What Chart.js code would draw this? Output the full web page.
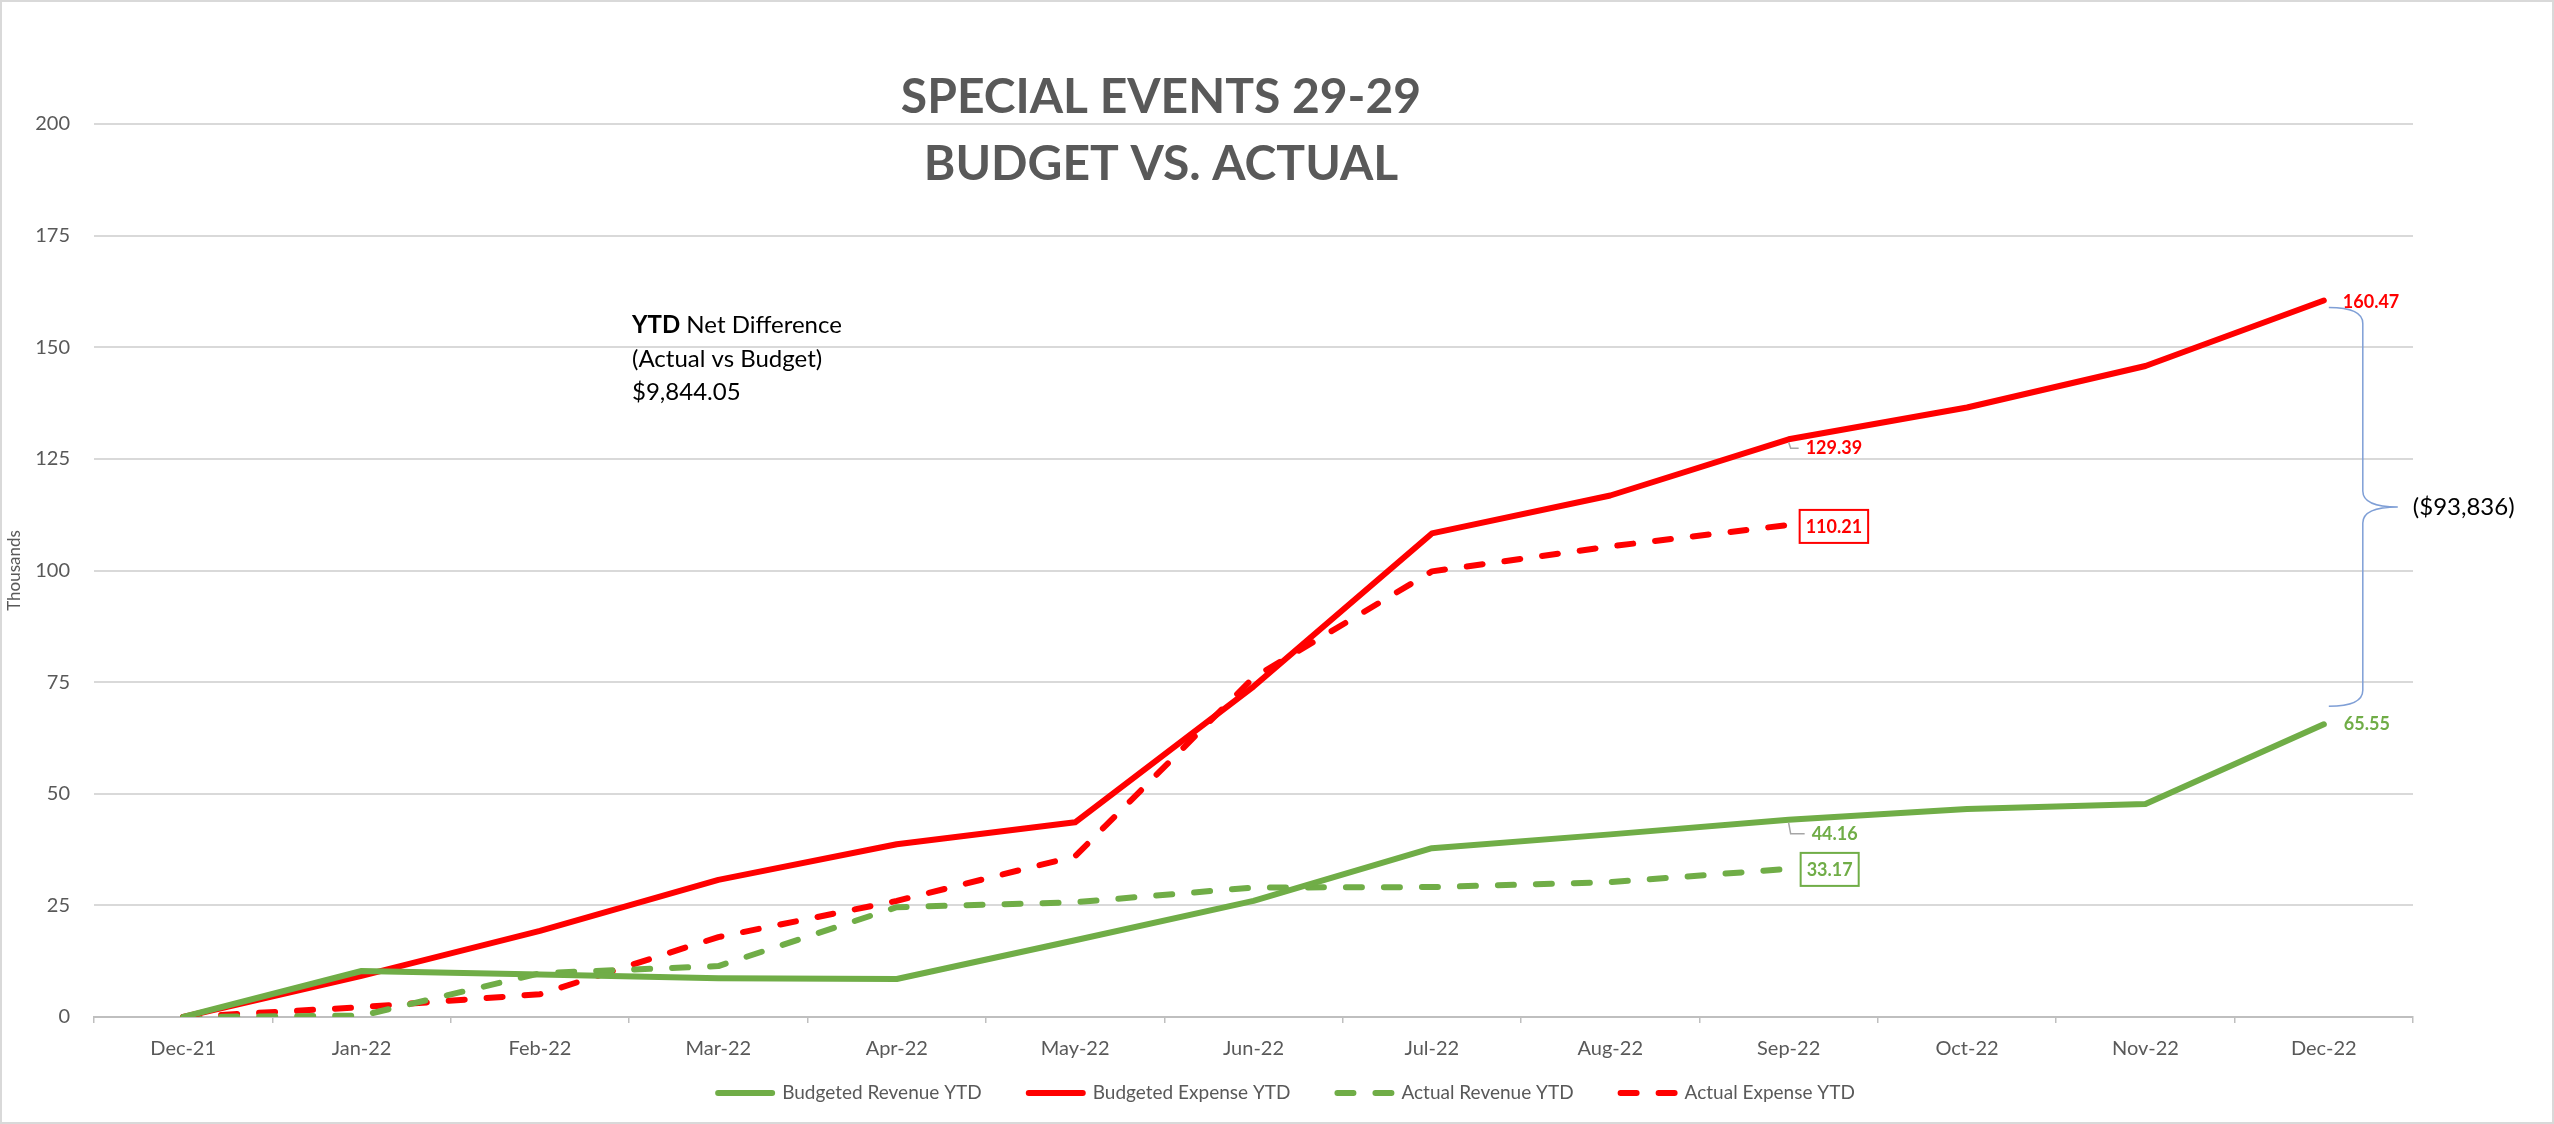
<!DOCTYPE html>
<html>
<head>
<meta charset="utf-8">
<title>Special Events Budget vs Actual</title>
<script src="https://cdn.jsdelivr.net/npm/chart.js"></script>
<style>
  html, body { margin: 0; padding: 0; background: #fff; }
  canvas { display: block; }
</style>
</head>
<body>
<canvas id="chart" width="2554" height="1124"></canvas>
<script>
// Data (thousands)
const months = ['Dec-21', 'Jan-22', 'Feb-22', 'Mar-22', 'Apr-22', 'May-22', 'Jun-22',
                'Jul-22', 'Aug-22', 'Sep-22', 'Oct-22', 'Nov-22', 'Dec-22'];
const budgetedRevenue = [0, 10.3, 9.5, 8.7, 8.5, 17.2, 26.0, 37.8, 40.9, 44.16, 46.6, 47.7, 65.55];
const budgetedExpense = [0, 9.2, 19.3, 30.7, 38.7, 43.6, 74.0, 108.3, 116.8, 129.39, 136.5, 145.8, 160.47];
const actualRevenue = [0, 0.3, 9.8, 11.4, 24.6, 25.7, 29.0, 29.1, 30.2, 33.17];
const actualExpense = [0, 2.2, 5.1, 17.9, 26.0, 36.0, 76.0, 99.8, 105.4, 110.21];
const yTicks = [0, 25, 50, 75, 100, 125, 150, 175, 200];

const titleLines = ['SPECIAL EVENTS 29-29', 'BUDGET VS. ACTUAL'];
const netNote = ['YTD', ' Net Difference', '(Actual vs Budget)', '$9,844.05'];
const gapNote = '($93,836)';

const GREEN = '#70AD47';
const RED = '#FF0000';
const GREY = '#595959';
const FONT = 'Lato, "Open Sans", sans-serif';

// which points get a value label
const pointLabels = [
    { ds: 1, i: 9, dx: 17, dy: 9, leader: true },
    { ds: 3, i: 9, dx: 11, dy: 1, box: true },
    { ds: 1, i: 12, dx: 19, dy: 2 },
    { ds: 0, i: 9, dx: 23, dy: 14, leader: true },
    { ds: 2, i: 9, dx: 12, dy: 0, box: true },
    { ds: 0, i: 12, dx: 20, dy: 0 }
];

const frame = {
    id: 'frame',
    beforeDraw(chart) {
        const ctx = chart.ctx;
        ctx.save();
        ctx.fillStyle = '#fff';
        ctx.fillRect(0, 0, chart.width, chart.height);
        ctx.strokeStyle = '#d9d9d9';
        ctx.lineWidth = 2;
        ctx.strokeRect(1, 1, chart.width - 2, chart.height - 2);
        ctx.restore();
    }
};

const extras = {
    id: 'extras',
    afterDatasetsDraw(chart) {
        const ctx = chart.ctx;
        const y = chart.scales.y;
        ctx.save();

        // Title
        ctx.fillStyle = GREY;
        ctx.font = `bold 48px ${FONT}`;
        ctx.textAlign = 'center';
        ctx.textBaseline = 'middle';
        ctx.fillText(titleLines[0], 1161, 98);
        ctx.fillText(titleLines[1], 1161, 165);

        // YTD note
        ctx.fillStyle = '#000';
        ctx.textAlign = 'left';
        ctx.font = `bold 24px ${FONT}`;
        ctx.fillText(netNote[0], 632, 325);
        const w = ctx.measureText(netNote[0]).width;
        ctx.font = `24px ${FONT}`;
        ctx.fillText(netNote[1], 632 + w, 325);
        ctx.fillText(netNote[2], 632, 359);
        ctx.fillText(netNote[3], 632, 392);

        // value labels
        ctx.font = `bold 18px ${FONT}`;
        pointLabels.forEach(p => {
            const ds = chart.data.datasets[p.ds];
            const pt = chart.getDatasetMeta(p.ds).data[p.i];
            const text = ds.data[p.i].toFixed(2);
            const tx = pt.x + p.dx, ty = pt.y + p.dy;
            const tw = ctx.measureText(text).width;
            if (p.leader) {
                ctx.strokeStyle = '#a6a6a6';
                ctx.lineWidth = 1.5;
                ctx.beginPath();
                ctx.moveTo(pt.x, pt.y + 3);
                ctx.lineTo(pt.x + 2, ty);
                ctx.lineTo(tx - 7, ty);
                ctx.stroke();
            }
            if (p.box) {
                ctx.fillStyle = '#fff';
                ctx.fillRect(tx, ty - 16, tw + 12, 33);
                ctx.strokeStyle = ds.borderColor;
                ctx.lineWidth = 2;
                ctx.strokeRect(tx, ty - 16, tw + 12, 33);
                ctx.fillStyle = ds.borderColor;
                ctx.fillText(text, tx + 6, ty + 1);
            } else {
                ctx.fillStyle = ds.borderColor;
                ctx.fillText(text, tx, ty);
            }
        });

        // brace between budgeted expense and revenue at Dec-22
        const last = months.length - 1;
        const xE = chart.getDatasetMeta(1).data[last].x;
        const top = y.getPixelForValue(budgetedExpense[last]) + 7;
        const bot = y.getPixelForValue(budgetedRevenue[last]) - 18;
        const mid = (top + bot) / 2;
        const x0 = xE + 5, x1 = xE + 39, x2 = xE + 74;
        ctx.strokeStyle = '#7f9fd6';
        ctx.lineWidth = 1.5;
        ctx.beginPath();
        ctx.moveTo(x0, top);
        ctx.quadraticCurveTo(x1, top, x1, top + 16);
        ctx.lineTo(x1, mid - 16);
        ctx.quadraticCurveTo(x1, mid, x2, mid);
        ctx.quadraticCurveTo(x1, mid, x1, mid + 16);
        ctx.lineTo(x1, bot - 16);
        ctx.quadraticCurveTo(x1, bot, x0, bot);
        ctx.stroke();
        ctx.fillStyle = '#000';
        ctx.font = `24px ${FONT}`;
        ctx.fillText(gapNote, x2 + 15, mid);

        ctx.restore();
    },
    afterDraw(chart) {
        // legend along the bottom
        const ctx = chart.ctx;
        const sets = chart.data.datasets;
        ctx.save();
        ctx.font = `19px ${FONT}`;
        ctx.textBaseline = 'middle';
        const lineLen = 60, textGap = 7, itemGap = 44;
        const widths = sets.map(d => lineLen + textGap + ctx.measureText(d.label).width);
        const total = widths.reduce((a, b) => a + b, 0) + itemGap * (sets.length - 1);
        let x = chart.width / 2 + 8 - total / 2;
        const ly = 1093;
        sets.forEach((d, k) => {
            ctx.strokeStyle = d.borderColor;
            ctx.lineWidth = d.borderWidth;
            ctx.lineCap = d.borderCapStyle || 'butt';
            ctx.setLineDash(d.borderDash || []);
            ctx.beginPath();
            ctx.moveTo(x + 3, ly);
            ctx.lineTo(x + lineLen - 3, ly);
            ctx.stroke();
            ctx.setLineDash([]);
            ctx.fillStyle = GREY;
            ctx.fillText(d.label, x + lineLen + textGap, ly);
            x += widths[k] + itemGap;
        });
        ctx.restore();
    }
};

const lineStyle = (color, dashed) => ({
    borderColor: color,
    backgroundColor: color,
    borderWidth: 6,
    borderDash: dashed ? [16, 22] : [],
    borderCapStyle: 'round',
    borderJoinStyle: 'round',
    pointRadius: 0,
    tension: 0,
    fill: false
});

new Chart(document.getElementById('chart'), {
    type: 'line',
    data: {
        labels: months,
        datasets: [
            { label: 'Budgeted Revenue YTD', data: budgetedRevenue, ...lineStyle(GREEN, false) },
            { label: 'Budgeted Expense YTD', data: budgetedExpense, ...lineStyle(RED, false) },
            { label: 'Actual Revenue YTD', data: actualRevenue, ...lineStyle(GREEN, true) },
            { label: 'Actual Expense YTD', data: actualExpense, ...lineStyle(RED, true) }
        ]
    },
    options: {
        responsive: false,
        animation: false,
        devicePixelRatio: 1,
        layout: { padding: { top: 124, left: 4, right: 141, bottom: 0 } },
        plugins: {
            legend: { display: false },
            tooltip: { enabled: false },
            title: { display: false }
        },
        scales: {
            x: {
                offset: true,
                afterFit: s => { s.height = 107; },
                grid: {
                    offset: true,
                    drawOnChartArea: false,
                    drawTicks: true,
                    tickLength: 6,
                    color: '#bfbfbf',
                    lineWidth: 1.5
                },
                border: { display: true, color: '#bfbfbf', width: 2, dash: [2, 2] },
                ticks: {
                    autoSkip: false,
                    maxRotation: 0,
                    padding: 14,
                    color: GREY,
                    font: { family: FONT, size: 20 }
                }
            },
            y: {
                min: 0,
                max: 200,
                afterFit: s => { s.width = 90; },
                afterBuildTicks: s => { s.ticks = yTicks.map(v => ({ value: v })); },
                border: { display: false },
                grid: {
                    drawTicks: false,
                    lineWidth: 2,
                    color: c => c.tick && c.tick.value === 0 ? 'rgba(0,0,0,0)' : '#d9d9d9'
                },
                ticks: {
                    padding: 24,
                    color: GREY,
                    font: { family: FONT, size: 20 }
                },
                title: {
                    display: true,
                    text: 'Thousands',
                    color: GREY,
                    padding: { top: 0, bottom: 0 },
                    font: { family: FONT, size: 17 }
                }
            }
        }
    },
    plugins: [frame, extras]
});
</script>
</body>
</html>
